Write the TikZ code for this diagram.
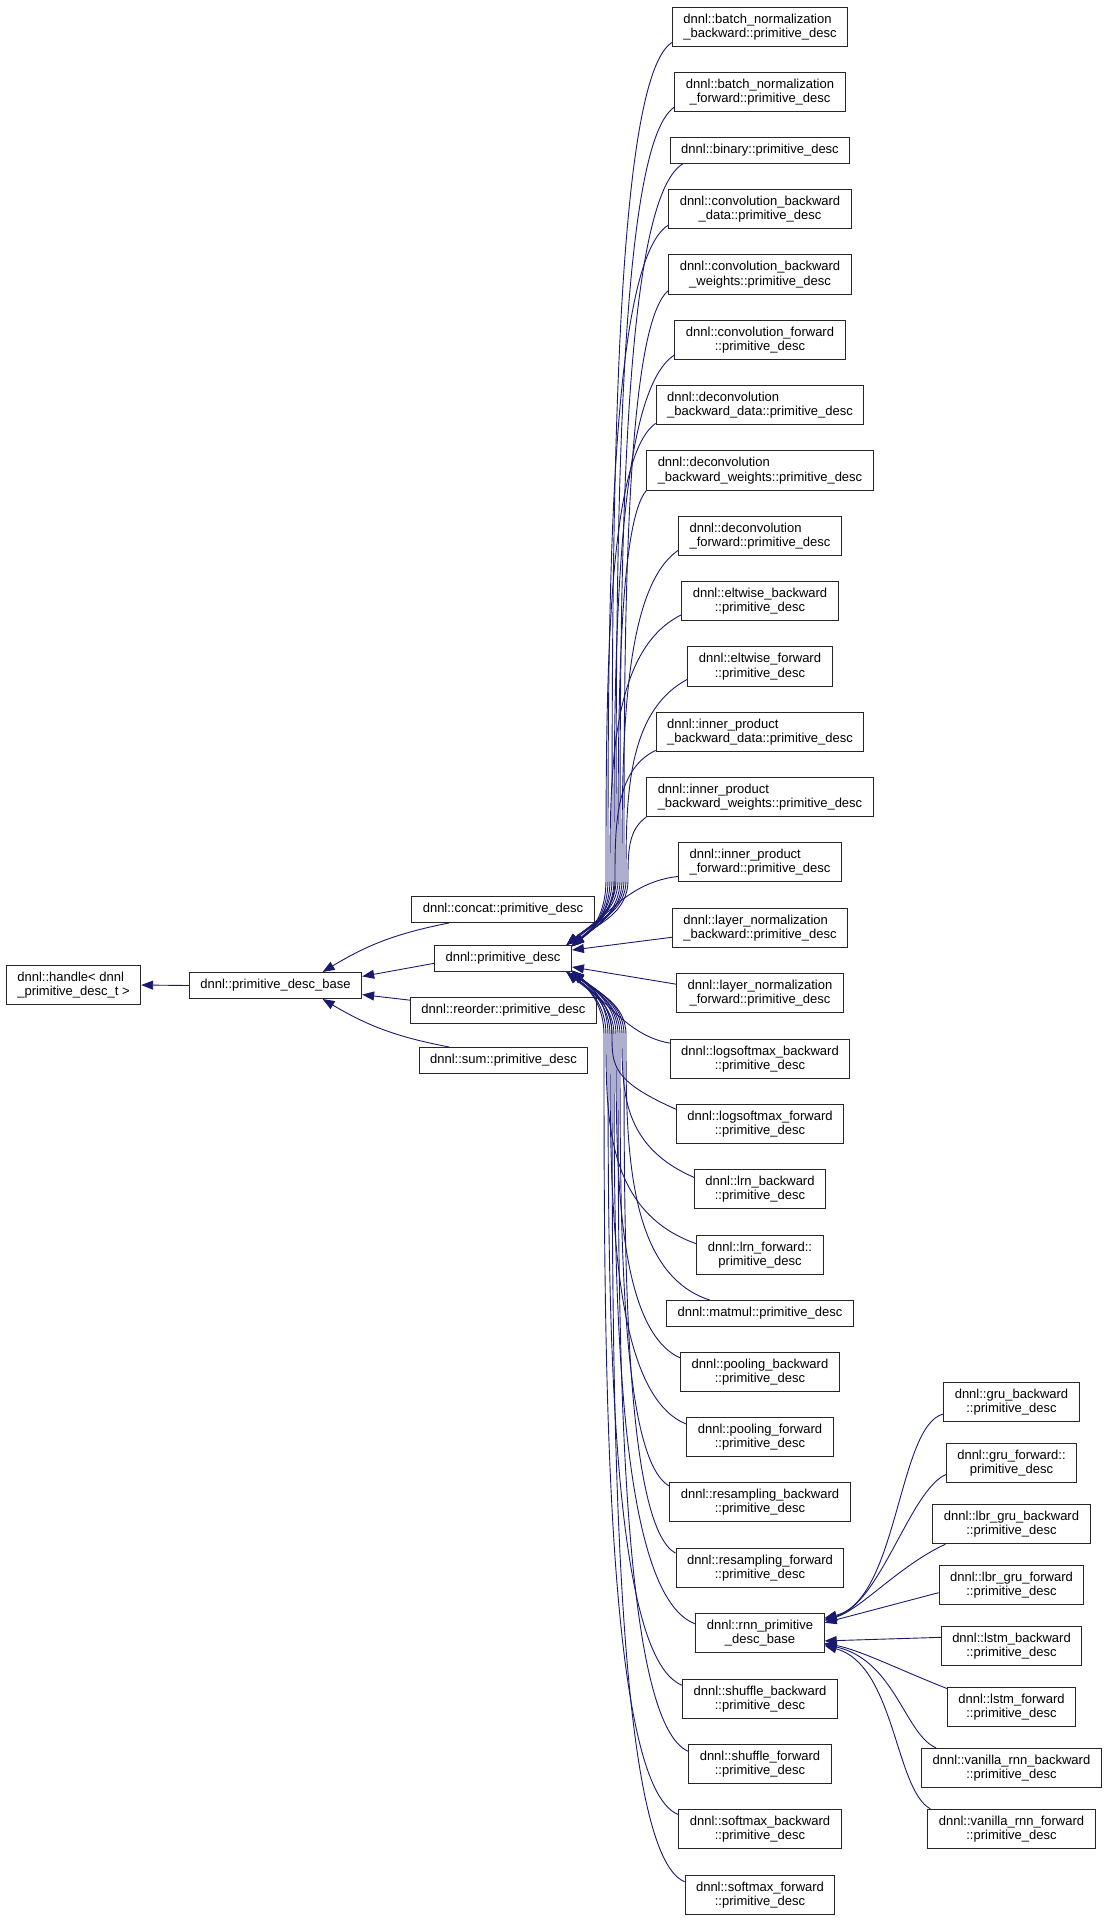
\documentclass[tikz,border=0pt]{standalone}
\usepackage{fontspec}
\setmainfont{Liberation Sans}
\usepackage{tikz}
\usetikzlibrary{arrows.meta}
\definecolor{edgeblue}{RGB}{25,25,112}

\begin{document}
\begin{tikzpicture}[x=1pt, y=1pt,
    cls/.style={draw=black!85, line width=1pt, inner xsep=11pt, inner ysep=6.5pt,
      minimum height=26pt, align=center, font=\fontsize{13}{14.3}\selectfont},
    inh/.style={-{Triangle[length=12pt,width=9pt]}, draw=edgeblue, line width=0.9pt}]
    \useasboundingbox (0,0) rectangle (1107,-1920);

    % base classes
    \node[cls, align=left] (handle) at (73.5,-985) {dnnl::handle< dnnl\\\_primitive\_desc\_t >};
    \node[cls] (base) at (275.5,-985.5) {dnnl::primitive\_desc\_base};
    \node[cls] (concat) at (503,-909.5) {dnnl::concat::primitive\_desc};
    \node[cls] (pd) at (503,-958.5) {dnnl::primitive\_desc};
    \node[cls] (reorder) at (503.5,-1010) {dnnl::reorder::primitive\_desc};
    \node[cls] (sum) at (503.5,-1060.5) {dnnl::sum::primitive\_desc};

    % primitive_desc children
    \node[cls, align=left] (bnb) at (760,-27) {dnnl::batch\_normalization\\\_backward::primitive\_desc};
    \node[cls] (bnf) at (760,-92) {dnnl::batch\_normalization\\\_forward::primitive\_desc};
    \node[cls] (binary) at (760,-150) {dnnl::binary::primitive\_desc};
    \node[cls] (cbd) at (760,-209) {dnnl::convolution\_backward\\\_data::primitive\_desc};
    \node[cls] (cbw) at (760,-274.5) {dnnl::convolution\_backward\\\_weights::primitive\_desc};
    \node[cls] (cf) at (760,-340) {dnnl::convolution\_forward\\::primitive\_desc};
    \node[cls, align=left] (dbd) at (760,-405) {dnnl::deconvolution\\\_backward\_data::primitive\_desc};
    \node[cls, align=left] (dbw) at (760,-470.5) {dnnl::deconvolution\\\_backward\_weights::primitive\_desc};
    \node[cls, align=left] (df) at (760,-536) {dnnl::deconvolution\\\_forward::primitive\_desc};
    \node[cls] (eb) at (760,-601) {dnnl::eltwise\_backward\\::primitive\_desc};
    \node[cls] (ef) at (760,-666.5) {dnnl::eltwise\_forward\\::primitive\_desc};
    \node[cls, align=left] (ipbd) at (760,-732) {dnnl::inner\_product\\\_backward\_data::primitive\_desc};
    \node[cls, align=left] (ipbw) at (760,-797) {dnnl::inner\_product\\\_backward\_weights::primitive\_desc};
    \node[cls, align=left] (ipf) at (760,-862) {dnnl::inner\_product\\\_forward::primitive\_desc};
    \node[cls, align=left] (lnb) at (760,-928) {dnnl::layer\_normalization\\\_backward::primitive\_desc};
    \node[cls] (lnf) at (760,-993) {dnnl::layer\_normalization\\\_forward::primitive\_desc};
    \node[cls] (lsb) at (760,-1059) {dnnl::logsoftmax\_backward\\::primitive\_desc};
    \node[cls] (lsf) at (760,-1124) {dnnl::logsoftmax\_forward\\::primitive\_desc};
    \node[cls] (lrnb) at (760,-1189) {dnnl::lrn\_backward\\::primitive\_desc};
    \node[cls] (lrnf) at (760,-1255) {dnnl::lrn\_forward::\\primitive\_desc};
    \node[cls] (matmul) at (760,-1313.5) {dnnl::matmul::primitive\_desc};
    \node[cls] (pb) at (760,-1372) {dnnl::pooling\_backward\\::primitive\_desc};
    \node[cls] (pf) at (760,-1437) {dnnl::pooling\_forward\\::primitive\_desc};
    \node[cls] (rb) at (760,-1502) {dnnl::resampling\_backward\\::primitive\_desc};
    \node[cls] (rf) at (760,-1568) {dnnl::resampling\_forward\\::primitive\_desc};
    \node[cls] (rnn) at (760,-1633) {dnnl::rnn\_primitive\\\_desc\_base};
    \node[cls] (shb) at (760,-1699) {dnnl::shuffle\_backward\\::primitive\_desc};
    \node[cls] (shf) at (760,-1764) {dnnl::shuffle\_forward\\::primitive\_desc};
    \node[cls] (smb) at (760,-1829) {dnnl::softmax\_backward\\::primitive\_desc};
    \node[cls] (smf) at (760,-1895) {dnnl::softmax\_forward\\::primitive\_desc};

    % rnn children
    \node[cls] (grub) at (1011.5,-1402) {dnnl::gru\_backward\\::primitive\_desc};
    \node[cls] (gruf) at (1011.5,-1463) {dnnl::gru\_forward::\\primitive\_desc};
    \node[cls] (lbrb) at (1011.5,-1524) {dnnl::lbr\_gru\_backward\\::primitive\_desc};
    \node[cls] (lbrf) at (1011.5,-1585) {dnnl::lbr\_gru\_forward\\::primitive\_desc};
    \node[cls] (lstmb) at (1011.5,-1646) {dnnl::lstm\_backward\\::primitive\_desc};
    \node[cls] (lstmf) at (1011.5,-1707) {dnnl::lstm\_forward\\::primitive\_desc};
    \node[cls] (vanb) at (1011.5,-1768) {dnnl::vanilla\_rnn\_backward\\::primitive\_desc};
    \node[cls] (vanf) at (1011.5,-1829) {dnnl::vanilla\_rnn\_forward\\::primitive\_desc};

    % inheritance arrows
    \draw[inh] (base.west) -- (handle.east);
    \draw[inh] (concat.194) to[bend right=10] (base.16);
    \draw[inh] (pd.184) -- (base.6);
    \draw[inh] (reorder.174) -- (base.-6);
    \draw[inh] (sum.166) to[bend left=10] (base.-16);

    % upper bundle into primitive_desc
    \draw[inh] (bnb.190) .. controls (612,-80) and (612,-544) .. (612,-880) to[out=-90, in=40] (pd.11);
    \draw[inh] (bnf.190) .. controls (616,-145) and (616,-570) .. (616,-880) to[out=-90, in=40] (pd.12);
    \draw[inh] (binary.190) .. controls (620,-199) and (620,-592) .. (620,-880) to[out=-90, in=40] (pd.10);
    \draw[inh] (cbd.190) .. controls (608,-262) and (608,-617) .. (608,-880) to[out=-90, in=35] (pd.11);
    \draw[inh] (cbw.190) .. controls (624,-327) and (624,-643) .. (624,-880) to[out=-90, in=40] (pd.12);
    \draw[inh] (cf.190) .. controls (614,-393) and (614,-669) .. (614,-880) to[out=-90, in=40] (pd.10);
    \draw[inh] (dbd.190) .. controls (606,-458) and (606,-695) .. (606,-880) to[out=-90, in=35] (pd.11);
    \draw[inh] (dbw.190) .. controls (618,-524) and (618,-722) .. (618,-880) to[out=-90, in=40] (pd.12);
    \draw[inh] (df.190) .. controls (622,-589) and (622,-748) .. (622,-880) to[out=-90, in=40] (pd.10);
    \draw[inh] (eb.190) .. controls (610,-650) and (610,-774) .. (610,-880) to[out=-90, in=35] (pd.11);
    \draw[inh] (ef.190) .. controls (626,-712) and (626,-800) .. (626,-880) to[out=-90, in=40] (pd.12);
    \draw[inh] (ipbd.190) .. controls (615,-770) and (615,-826) .. (615,-880) to[out=-90, in=40] (pd.10);
    \draw[inh] (ipbw.190) .. controls (628,-830) and (628,-852) .. (628,-880) to[out=-90, in=40] (pd.11);
    \draw[inh] (ipf.190) .. controls (628,-882) and (606,-918) .. (pd.12);
    \draw[inh] (lnb.186) -- (pd.7);
    \draw[inh] (lnf.174) -- (pd.-7);

    % lower bundle into primitive_desc
    \draw[inh] (lsb.170) .. controls (628,-1036) and (606,-999) .. (pd.-12);
    \draw[inh] (lsf.170) .. controls (612,-1081) and (612,-1065) .. (612,-1035) to[out=90, in=-40] (pd.-11);
    \draw[inh] (lrnb.170) .. controls (622,-1146) and (622,-1091) .. (622,-1035) to[out=90, in=-40] (pd.-10);
    \draw[inh] (lrnf.170) .. controls (606,-1212) and (606,-1118) .. (606,-1035) to[out=90, in=-35] (pd.-12);
    \draw[inh] (matmul.165) .. controls (626,-1273) and (626,-1142) .. (626,-1035) to[out=90, in=-40] (pd.-11);
    \draw[inh] (pb.170) .. controls (616,-1329) and (616,-1165) .. (616,-1035) to[out=90, in=-40] (pd.-10);
    \draw[inh] (pf.170) .. controls (610,-1394) and (610,-1191) .. (610,-1035) to[out=90, in=-35] (pd.-12);
    \draw[inh] (rb.170) .. controls (620,-1459) and (620,-1217) .. (620,-1035) to[out=90, in=-40] (pd.-11);
    \draw[inh] (rf.170) .. controls (624,-1525) and (624,-1243) .. (624,-1035) to[out=90, in=-40] (pd.-10);
    \draw[inh] (rnn.172) .. controls (614,-1594) and (614,-1271) .. (614,-1035) to[out=90, in=-40] (pd.-12);
    \draw[inh] (shb.170) .. controls (608,-1656) and (608,-1295) .. (608,-1035) to[out=90, in=-35] (pd.-11);
    \draw[inh] (shf.170) .. controls (618,-1721) and (618,-1321) .. (618,-1035) to[out=90, in=-40] (pd.-10);
    \draw[inh] (smb.170) .. controls (604,-1786) and (604,-1347) .. (604,-1035) to[out=90, in=-35] (pd.-12);
    \draw[inh] (smf.170) .. controls (612,-1852) and (612,-1374) .. (612,-1035) to[out=90, in=-40] (pd.-11);

    % rnn_primitive_desc_base children
    \draw[inh] (grub.190) .. controls (898,-1425) and (898,-1600) .. (rnn.13);
    \draw[inh] (gruf.190) .. controls (910,-1490) and (880,-1605) .. (rnn.12);
    \draw[inh] (lbrb.197) .. controls (900,-1565) and (860,-1610) .. (rnn.11);
    \draw[inh] (lbrf.186) -- (rnn.9);
    \draw[inh] (lstmb.173) -- (rnn.-7);
    \draw[inh] (lstmf.164) .. controls (900,-1670) and (860,-1650) .. (rnn.-9);
    \draw[inh] (vanb.165) .. controls (905,-1735) and (895,-1660) .. (rnn.-10);
    \draw[inh] (vanf.166) .. controls (895,-1790) and (895,-1665) .. (rnn.-11);
\end{tikzpicture}
\end{document}
